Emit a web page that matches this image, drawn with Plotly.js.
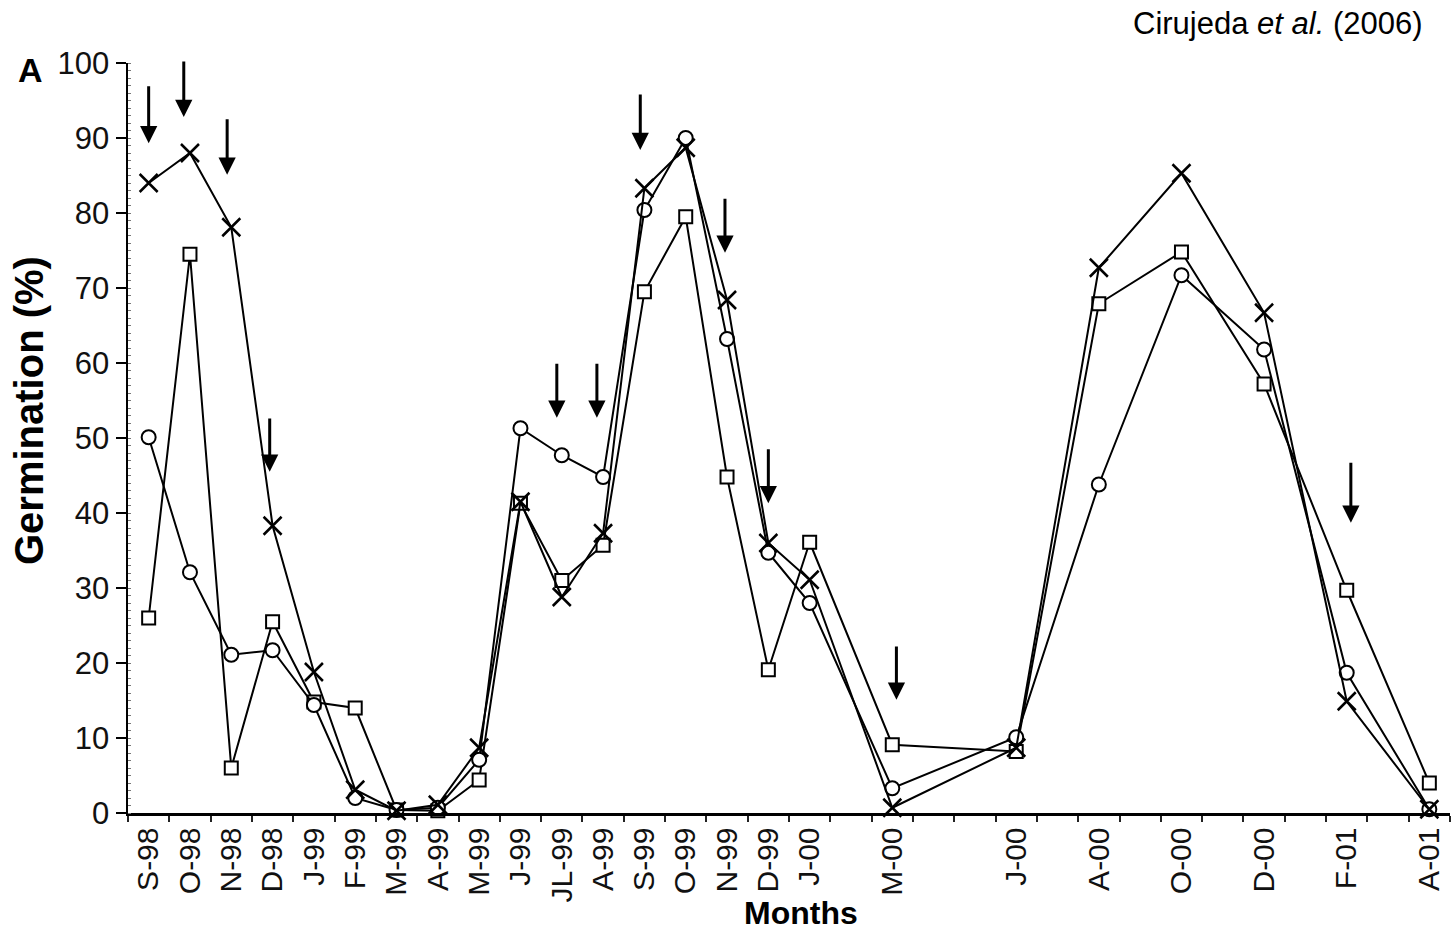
<!DOCTYPE html>
<html>
<head>
<meta charset="utf-8">
<script src="https://cdn.plot.ly/plotly-3.0.1.min.js"></script>
<style>
  html, body { margin: 0; padding: 0; background: #ffffff; }
  #chart { width: 1454px; height: 936px; }
</style>
</head>
<body>
<div id="chart"></div>
<script>
// Sampling month, counted in months from September 1998
const sampleMonth = [0, 1, 2, 3, 4, 5, 6, 7, 8, 9, 10, 11, 12, 13, 14, 15, 16, 18, 21, 23, 25, 27, 29, 31];
const monthLabels = ['S-98', 'O-98', 'N-98', 'D-98', 'J-99', 'F-99', 'M-99', 'A-99', 'M-99', 'J-99', 'JL-99', 'A-99',
                     'S-99', 'O-99', 'N-99', 'D-99', 'J-00', 'M-00', 'J-00', 'A-00', 'O-00', 'D-00', 'F-01', 'A-01'];

// Germination (%) series
const crossSeries  = [84.0, 88.0, 78.1, 38.3, 18.8, 3.1, 0.3, 1.1, 8.7, 41.5, 28.8, 37.3,
                      83.3, 88.7, 68.4, 36.0, 31.1, 0.7, 8.7, 72.7, 85.3, 66.7, 14.9, 0.5];
const circleSeries = [50.1, 32.1, 21.1, 21.7, 14.4, 2.0, 0.4, 0.7, 7.1, 51.3, 47.7, 44.8,
                      80.4, 90.0, 63.2, 34.7, 28.0, 3.3, 10.1, 43.8, 71.7, 61.8, 18.7, 0.5];
const squareSeries = [26.0, 74.5, 6.0, 25.5, 14.8, 14.0, 0.4, 0.3, 4.4, 41.3, 31.0, 35.7,
                      69.5, 79.5, 44.8, 19.1, 36.1, 9.1, 8.2, 67.9, 74.8, 57.2, 29.7, 4.0];

// Arrows marking events (month position, top of shaft, arrow tip; in % units)
const arrowMonth = [0.0, 0.85, 1.9, 2.93, 9.88, 10.85, 11.9, 13.95, 15.0, 18.1, 29.1];
const arrowTop   = [97.1, 100.4, 92.7, 52.8, 60.1, 60.1, 96.0, 82.1, 48.7, 22.4, 46.9];
const arrowTip   = [89.3, 92.8, 85.1, 45.5, 52.7, 52.7, 88.4, 74.7, 41.3, 15.1, 38.7];

const yTicks = [0, 10, 20, 30, 40, 50, 60, 70, 80, 90, 100];

const FONT = 'Liberation Sans, Arial, Helvetica, sans-serif';

function lineTrace(yvals, symbol, size, fill, mlw) {
  return {
    x: sampleMonth, y: yvals, type: 'scatter', mode: 'lines+markers',
    line: { color: '#000', width: 2 },
    marker: { symbol: symbol, size: size, color: fill, line: { color: '#000', width: mlw } },
    cliponaxis: false, showlegend: false, hoverinfo: 'x+y'
  };
}

const traces = [
  lineTrace(squareSeries, 'square', 13, '#ffffff', 2),
  lineTrace(circleSeries, 'circle', 14, '#ffffff', 2),
  lineTrace(crossSeries, 'x-thin', 18, '#000', 2.5)
];

const annotations = arrowMonth.map((m, i) => ({
  x: m, y: arrowTip[i], xref: 'x', yref: 'y',
  ax: m, ay: arrowTop[i], axref: 'x', ayref: 'y',
  showarrow: true, arrowhead: 2, arrowsize: 1.15, arrowwidth: 3, arrowcolor: '#000',
  standoff: 0, startstandoff: 0, text: ''
}));

annotations.push(
  { text: 'Cirujeda <i>et al.</i> (2006)', xref: 'paper', yref: 'paper',
    x: (1425 - 128) / 1322, y: (813 - 24) / 750, xanchor: 'right', yanchor: 'middle',
    showarrow: false, font: { family: FONT, size: 31, color: '#000' } },
  { text: '<b>A</b>', xref: 'paper', yref: 'paper',
    x: (30 - 128) / 1322, y: (813 - 70) / 750, xanchor: 'center', yanchor: 'middle',
    showarrow: false, font: { family: FONT, size: 34, color: '#000' } },
  { text: '<b>Germination (%)</b>', xref: 'paper', yref: 'paper', textangle: -90,
    x: (29 - 128) / 1322, y: (813 - 411) / 750, xanchor: 'center', yanchor: 'middle',
    showarrow: false, font: { family: FONT, size: 40, color: '#000' } },
  { text: '<b>Months</b>', xref: 'paper', yref: 'paper',
    x: (801 - 128) / 1322, y: (813 - 913) / 750, xanchor: 'center', yanchor: 'middle',
    showarrow: false, font: { family: FONT, size: 32, color: '#000' } }
);

const layout = {
  width: 1454, height: 936,
  margin: { l: 128, r: 4, t: 63, b: 123, pad: 0 },
  paper_bgcolor: '#ffffff', plot_bgcolor: '#ffffff',
  showlegend: false,
  xaxis: {
    range: [-0.5, 31.5], tickmode: 'array', tickvals: sampleMonth, ticktext: monthLabels,
    ticks: '', tickangle: -90, tickfont: { family: FONT, size: 30, color: '#111' },
    showline: true, linecolor: '#000', linewidth: 2.5, zeroline: false, showgrid: false,
    minor: { tick0: -0.5, dtick: 1, ticks: 'outside', ticklen: 6, tickwidth: 2, tickcolor: '#222', showgrid: false }
  },
  yaxis: {
    range: [0, 100], tickmode: 'array', tickvals: yTicks, ticktext: yTicks.map(String),
    ticks: 'outside', ticklen: 10, tickwidth: 2, tickcolor: '#000',
    tickfont: { family: FONT, size: 31, color: '#111' },
    showline: true, linecolor: '#000', linewidth: 2.5, zeroline: false, showgrid: false,
    minor: { tick0: 0, dtick: 1, ticks: 'inside', ticklen: 3, tickwidth: 1, tickcolor: '#777', showgrid: false }
  },
  annotations: annotations
};

Plotly.newPlot('chart', traces, layout, { staticPlot: true, displayModeBar: false });
</script>
</body>
</html>
